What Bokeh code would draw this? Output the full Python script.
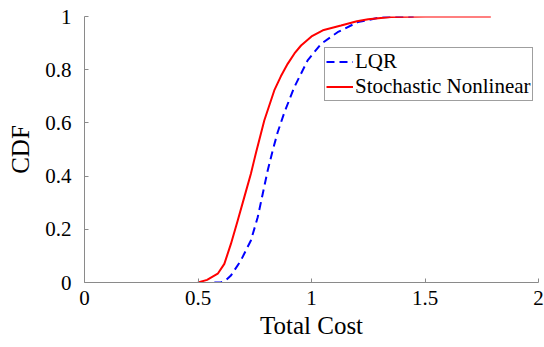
from bokeh.plotting import figure
from bokeh.models import Range1d, Legend, LegendItem, FixedTicker
from bokeh.embed import file_html
from bokeh.resources import INLINE

# Data
lqr_x = [0.572, 0.601, 0.625, 0.645, 0.689, 0.733, 0.763, 0.785, 0.807, 0.829,
         0.851, 0.880, 0.924, 0.983, 1.042, 1.115, 1.204, 1.306, 1.45]
lqr_y = [0.0, 0.0, 0.01, 0.026, 0.083, 0.158, 0.245, 0.333, 0.421, 0.496,
         0.565, 0.638, 0.734, 0.835, 0.897, 0.941, 0.979, 0.997, 1.0]

snl_x = [0.50, 0.54, 0.587, 0.616, 0.645, 0.675, 0.704, 0.733, 0.756, 0.792,
         0.836, 0.865, 0.895, 0.925, 0.954, 1.0, 1.05, 1.13, 1.20, 1.25, 1.35, 1.50, 1.65, 1.79]
snl_y = [0.0, 0.01, 0.033, 0.07, 0.145, 0.233, 0.321, 0.409, 0.49, 0.609,
         0.722, 0.775, 0.822, 0.861, 0.891, 0.925, 0.948, 0.966, 0.982, 0.99, 0.998, 1.0, 1.0, 1.0]

x_ticks = [0, 0.5, 1, 1.5, 2]
y_ticks = [0, 0.2, 0.4, 0.6, 0.8, 1]
x_tick_labels = {0: "0", 0.5: "0.5", 1: "1", 1.5: "1.5", 2: "2"}
y_tick_labels = {0: "0", 0.2: "0.2", 0.4: "0.4", 0.6: "0.6", 0.8: "0.8", 1: "1"}

FONT = "Liberation Serif"

p = figure(width=544, height=347, output_backend="svg", toolbar_location=None,
           x_range=Range1d(0, 2), y_range=Range1d(0, 1),
           min_border_left=84, min_border_right=6, min_border_top=16, min_border_bottom=65)
p.outline_line_color = None
p.grid.visible = False
p.background_fill_color = "white"
p.border_fill_color = "white"

r1 = p.line(lqr_x, lqr_y, line_color="#0000FF", line_width=2, line_dash="8 5")
r2 = p.line(snl_x, snl_y, line_color="#FF0000", line_width=2)

p.xaxis.ticker = FixedTicker(ticks=x_ticks)
p.yaxis.ticker = FixedTicker(ticks=y_ticks)
p.xaxis.major_label_overrides = x_tick_labels
p.yaxis.major_label_overrides = y_tick_labels
p.xaxis.axis_label = "Total Cost"
p.yaxis.axis_label = "CDF"

p.axis.axis_line_color = "#8a8a8a"
p.axis.major_tick_line_color = "#8a8a8a"
p.axis.major_tick_in = 4
p.axis.major_tick_out = 0
p.axis.minor_tick_line_color = None
p.axis.major_label_text_color = "black"
p.axis.major_label_text_font = FONT
p.axis.major_label_text_font_style = "normal"
p.axis.major_label_text_font_size = "21px"
p.axis.axis_label_text_font = FONT
p.axis.axis_label_text_font_size = "25px"
p.axis.axis_label_text_font_style = "normal"
p.axis.axis_label_text_color = "black"

p.xaxis.major_label_standoff = 8
p.yaxis.major_label_standoff = 13
p.xaxis.axis_label_standoff = 4
p.yaxis.axis_label_standoff = 8

legend = Legend(items=[LegendItem(label="LQR", renderers=[r1]),
                       LegendItem(label="Stochastic Nonlinear", renderers=[r2])],
                location=(240, 181),
                label_text_font=FONT, label_text_font_size="21px",
                label_text_font_style="normal", label_text_color="black")
legend.label_height = 21
legend.glyph_height = 21
legend.glyph_width = 27
legend.label_standoff = 2
legend.spacing = 0
legend.padding = 1
legend.margin = 0
legend.border_line_color = "#404040"
legend.border_line_width = 1
legend.background_fill_alpha = 1
p.add_layout(legend)

open("out.html", "w").write(file_html(p, INLINE))
